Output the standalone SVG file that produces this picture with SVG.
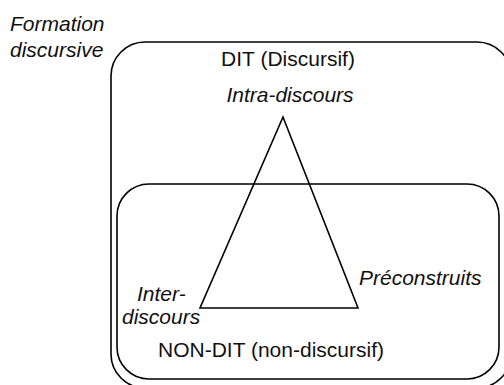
<svg xmlns="http://www.w3.org/2000/svg" width="504" height="385" viewBox="0 0 504 385">
<style>
.box{fill:none;stroke:#000;stroke-width:1.6}
.t{font-family:"Liberation Sans",Arial,sans-serif;font-size:21px;fill:#111}
.i{font-style:italic}
</style>
<rect width="504" height="385" fill="#fff"/>
<g id="formation-label">
<text class="t i" x="10" y="31">Formation</text>
<text class="t i" x="10" y="57">discursive</text>
</g>
<g id="dit">
<rect class="box" x="111" y="42" width="400" height="346" rx="34" ry="34"/>
<text class="t" x="288" y="66" text-anchor="middle">DIT (Discursif)</text>
</g>
<g id="non-dit">
<rect class="box" x="117" y="184" width="382" height="195" rx="32" ry="32"/>
<text class="t" x="271" y="357" text-anchor="middle">NON-DIT (non-discursif)</text>
</g>
<g id="connectors">
<polygon points="283,117 200,308 358,308" fill="none" stroke="#000" stroke-width="1.6" stroke-linejoin="miter"/>
</g>
<g id="intra">
<text class="t i" x="290" y="102" text-anchor="middle">Intra-discours</text>
</g>
<g id="inter">
<text class="t i" x="137" y="301">Inter-</text>
<text class="t i" x="122" y="324">discours</text>
</g>
<g id="preconstruits">
<text class="t i" x="359" y="285">Préconstruits</text>
</g>
</svg>
